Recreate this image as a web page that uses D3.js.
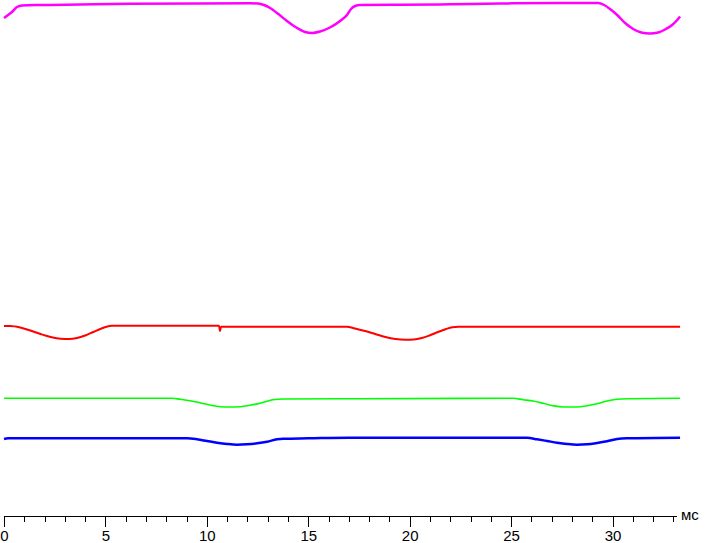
<!DOCTYPE html>
<html><head><meta charset="utf-8">
<script src="https://cdn.jsdelivr.net/npm/d3@7"></script>
<style>
html,body{margin:0;padding:0;background:#fff;}
svg{display:block;}
</style></head>
<body>
<script>
// time in ms
const magentaT = [0,0.2,0.39,0.64,0.89,1.78,3.75,6.21,9.66,12.13,12.52,12.82,13.12,13.46,13.95,14.45,14.84,15.19,15.58,16.07,16.57,16.91,17.11,17.31,17.55,19.53,21.99,24.46,27.42,29.29,29.59,29.88,30.23,30.62,31.02,31.41,31.85,32.25,32.59,32.94,33.19,33.33];
const magentaV = [99.4,100,100.6,101.6,101.9,102,102.1,102.24,102.3,102.34,102.3,102,101.4,100.4,98.8,97.4,96.6,96.4,96.7,97.5,98.8,100,101.2,101.8,102,102.06,102.14,102.3,102.4,102.4,102,101.2,100,98.4,97.2,96.5,96.3,96.5,97.1,98,99,99.7];

const redT = [0,0.3,0.8,1.3,1.8,2.3,2.8,3.2,3.6,4.0,4.4,4.8,5.1,5.3,7.2,10.6,10.65,10.7,14.0,16.9,17.3,17.8,18.3,18.8,19.3,19.8,20.2,20.6,21.0,21.4,21.8,22.1,22.4,33.33];
const redV = [37.8,37.8,37.5,36.9,36.2,35.6,35.25,35.2,35.4,35.9,36.6,37.3,37.7,37.85,37.86,37.86,36.8,37.66,37.66,37.66,37.3,36.8,36.2,35.6,35.2,35.06,35.1,35.4,35.95,36.6,37.2,37.55,37.66,37.66];

const greenT = [0,8.28,8.68,9.17,9.66,10.16,10.65,11.14,11.64,12.13,12.62,12.97,13.26,13.76,17.55,25.10,25.59,26.08,26.58,27.07,27.56,28.25,28.75,29.24,29.73,30.23,30.72,33.33];
const greenV = [23.34,23.34,23.14,22.86,22.46,22.0,21.66,21.6,21.66,21.94,22.34,22.74,23.06,23.2,23.26,23.34,23.06,22.8,22.34,21.86,21.6,21.6,21.86,22.26,22.8,23.14,23.26,23.34];

const blueT = [0,0.2,9.02,9.52,10.01,10.50,11.00,11.49,11.98,12.48,12.97,13.46,13.76,15.0,17.0,25.79,26.28,26.78,27.27,27.76,28.25,28.75,29.24,29.73,30.23,30.72,33.33];
const blueV = [15.2,15.34,15.34,15.14,14.8,14.46,14.2,14.06,14.14,14.34,14.66,15.14,15.26,15.34,15.46,15.46,15.14,14.8,14.46,14.2,14.06,14.14,14.4,14.74,15.2,15.34,15.46];

const majorTicks = [0,5,10,15,20,25,30];
const minorTicks = d3.range(0,34,1);
const unitLabel = "мс";

const W = 707, H = 543;
const svg = d3.select("body").append("svg").attr("width",W).attr("height",H);

const x = d3.scaleLinear().domain([0,33.13]).range([4,676]);
const y = d3.scaleLinear().domain([0,103]).range([515,0]);

const series = [
  {t:magentaT, v:magentaV, color:"#ff00ff", w:2.5},
  {t:redT, v:redV, color:"#ff0000", w:2},
  {t:greenT, v:greenV, color:"#00ff00", w:1.6},
  {t:blueT, v:blueV, color:"#0000ff", w:2.5}
];
const line = d3.line().x(d=>x(d[0])).y(d=>y(d[1])).curve(d3.curveMonotoneX);
series.forEach(s=>{
  const pts = s.t.map((t,i)=>[t,s.v[i]]);
  svg.append("path").attr("d",line(pts)).attr("fill","none")
    .attr("stroke",s.color).attr("stroke-width",s.w).attr("stroke-linejoin","round");
});

// axis
const axisY = 515.5;
const minorAxis = d3.axisBottom(x).tickValues(minorTicks).tickSize(6).tickSizeOuter(0).tickFormat("");
const gMin = svg.append("g").attr("transform",`translate(0,${axisY})`).call(minorAxis);
const majorAxis = d3.axisBottom(x).tickValues(majorTicks).tickSize(11).tickSizeOuter(0).tickPadding(4).tickFormat(d3.format("d"));
const gMaj = svg.append("g").attr("transform",`translate(0,${axisY})`).call(majorAxis);
gMaj.select(".domain").remove();
[gMin,gMaj].forEach(g=>{
  g.selectAll("line").attr("stroke","#000").attr("shape-rendering","crispEdges");
  g.selectAll(".domain").attr("stroke","#000").attr("shape-rendering","crispEdges");
});
gMaj.selectAll("text").attr("font-family","'Liberation Sans', Arial, sans-serif").attr("font-size",15).attr("fill","#000");

svg.append("text").attr("x",681).attr("y",520).text(unitLabel)
  .attr("font-family","'Liberation Sans', Arial, sans-serif").attr("font-size",15).attr("fill","#000");
</script>
</body></html>
